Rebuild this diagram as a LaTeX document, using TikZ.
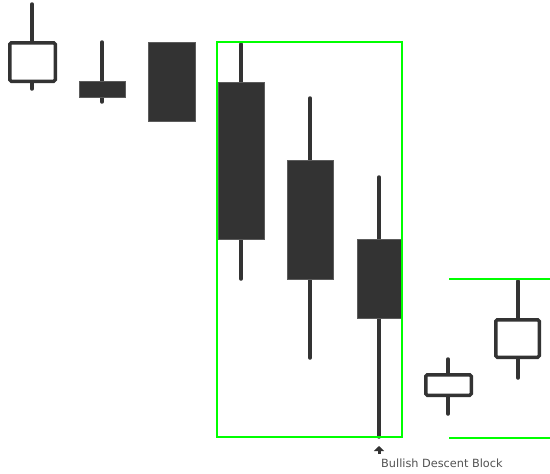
\documentclass[tikz,border=0pt]{standalone}
\usepackage{fontspec}
\setmainfont{DejaVu Sans}
\usepackage{tikz}
\usetikzlibrary{arrows.meta}
\tikzset{>=Stealth}
\definecolor{candle}{RGB}{51,51,51}
\definecolor{block}{RGB}{0,255,0}
\tikzset{
    wick/.style={draw=candle,line width=3.5pt,line cap=round},
    bear/.style={fill=candle,draw=candle!80!white,line width=0.6pt},
    bull/.style={fill=white,draw=candle,line width=3.5pt,rounded corners=1.5pt},
    zone/.style={draw=block,line width=2.2pt}
}
\begin{document}
\begin{tikzpicture}[x=1pt,y=-1pt]
    \useasboundingbox (0,0) rectangle (550,474);
    % bearish candles: wick x, wick top, wick bottom, body left, body right, body top, body bottom
    \foreach \wx/\wt/\wb/\bl/\br/\bt/\bb in {
        102/42/102/79/125/81/97,
        171/45/118/148/195/42/121,
        241/44/279/218/264/82/239,
        310/98/358/287/333/160/279,
        379/177/437/357/402/239/318}
    {
        \draw[wick] (\wx,\wt) -- (\wx,\wb);
        \path[bear] (\bl,\bt) rectangle (\br,\bb);
    }
    % bullish candles
    \foreach \wx/\wt/\wb/\bl/\br/\bt/\bb in {
        32/4/89/9.75/55.25/42.75/81.25,
        448/359/414/425.75/471.25/374.75/395.25,
        518/281/378/495.75/539.25/319.75/357.25}
    {
        \draw[wick] (\wx,\wt) -- (\wx,\wb);
        \path[bull] (\bl,\bt) rectangle (\br,\bb);
    }
    % block zone
    \draw[zone] (217,42) rectangle (402,437);
    \coordinate (zoneTop) at (449,279);
    \coordinate (zoneBot) at (449,438);
    \draw[zone] (zoneTop) -- (550,279);
    \draw[zone] (zoneBot) -- (550,438);
    % label
    \node[anchor=base west,inner sep=0pt,text=candle!85!white,font=\fontsize{11.3}{13}\selectfont] (bdb) at (381,467) {Bullish Descent Block};
    \coordinate (bdbTip) at (379,446);
    \draw[->,draw=candle,line width=3pt,>={Triangle[length=5pt,width=10pt]}] (379,454) -- (bdbTip);
\end{tikzpicture}
\end{document}
